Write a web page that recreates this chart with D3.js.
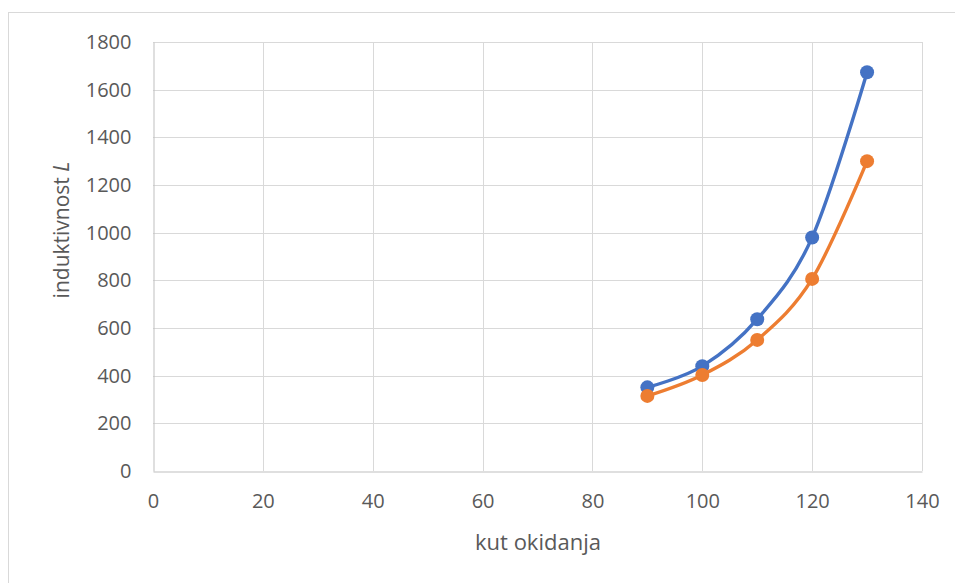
<!DOCTYPE html>
<html>
<head>
<meta charset="utf-8">
<script src="https://cdn.jsdelivr.net/npm/d3@7"></script>
<style>
  html, body { margin: 0; padding: 0; background: #fff; }
  svg { display: block; }
  text { font-family: "Open Sans", Lato, sans-serif; }
</style>
</head>
<body>
<svg id="chart" width="955" height="583"></svg>
<script>
// Trigger angle (x) and inductance L for the two measured series
const angles = [90, 100, 110, 120, 130];
const seriesA = [351, 440, 637, 980, 1673];
const seriesB = [315, 403, 550, 806, 1300];
const xTicks = [0, 20, 40, 60, 80, 100, 120, 140];
const yTicks = [0, 200, 400, 600, 800, 1000, 1200, 1400, 1600, 1800];
const seriesColors = ["#4472C4", "#ED7D31"];

const svg = d3.select("#chart");
const W = 955, H = 583;
const plot = { left: 153, right: 922, top: 42, bottom: 471 };

// Chart frame
svg.append("rect")
  .attr("x", 8.5).attr("y", 12.5)
  .attr("width", W).attr("height", H)
  .attr("fill", "#fff").attr("stroke", "#d9d9d9").attr("stroke-width", 1);

const x = d3.scaleLinear().domain([0, 140]).range([plot.left, plot.right]);
const y = d3.scaleLinear().domain([0, 1800]).range([plot.bottom, plot.top]);

// Gridlines
const grid = svg.append("g");
grid.selectAll("line.h").data(yTicks.filter(d => d > 0)).join("line")
  .attr("x1", plot.left).attr("x2", plot.right)
  .attr("y1", d => Math.round(y(d)) + 0.5).attr("y2", d => Math.round(y(d)) + 0.5)
  .attr("stroke", "#d9d9d9").attr("stroke-width", 1);
grid.selectAll("line.v").data(xTicks.filter(d => d > 0)).join("line")
  .attr("y1", plot.top).attr("y2", plot.bottom)
  .attr("x1", d => Math.round(x(d)) + 0.5).attr("x2", d => Math.round(x(d)) + 0.5)
  .attr("stroke", "#d9d9d9").attr("stroke-width", 1);

// Axes
const xAxis = svg.append("g")
  .attr("transform", `translate(0,${Math.round(y(0)) + 0.5})`)
  .call(d3.axisBottom(x).tickValues(xTicks).tickFormat(d3.format("d")).tickSize(0).tickPadding(22));
xAxis.select(".domain").attr("stroke", "#bfbfbf").attr("stroke-width", 1);
xAxis.selectAll("text").attr("fill", "#595959").style("font-size", "20px");

const yAxis = svg.append("g")
  .attr("transform", `translate(${Math.round(x(0)) + 0.5},0)`)
  .call(d3.axisLeft(y).tickValues(yTicks).tickFormat(d3.format("d")).tickSize(0).tickPadding(22));
yAxis.select(".domain").attr("stroke", "#bfbfbf").attr("stroke-width", 1);
yAxis.selectAll("text").attr("fill", "#595959").style("font-size", "20px");

// Axis titles
svg.append("text")
  .attr("x", 538).attr("y", 550)
  .attr("text-anchor", "middle").attr("fill", "#595959")
  .style("font-size", "22px").text("kut okidanja");

const yTitle = svg.append("text")
  .attr("transform", "translate(69,230) rotate(-90)")
  .attr("text-anchor", "middle").attr("fill", "#595959")
  .style("font-size", "21px");
yTitle.append("tspan").text("induktivnost ");
yTitle.append("tspan").attr("font-style", "italic").text("L");

// Smoothed lines with markers
const line = d3.line()
  .x(d => x(d[0])).y(d => y(d[1]))
  .curve(d3.curveCatmullRom.alpha(0));

[seriesA, seriesB].forEach((vals, i) => {
  const pts = angles.map((a, j) => [a, vals[j]]);
  svg.append("path").datum(pts)
    .attr("d", line).attr("fill", "none")
    .attr("stroke", seriesColors[i]).attr("stroke-width", 3.4)
    .attr("stroke-linejoin", "round").attr("stroke-linecap", "round");
  svg.append("g").selectAll("circle").data(pts).join("circle")
    .attr("cx", d => x(d[0])).attr("cy", d => y(d[1]))
    .attr("r", 7).attr("fill", seriesColors[i]);
});
</script>
</body>
</html>
